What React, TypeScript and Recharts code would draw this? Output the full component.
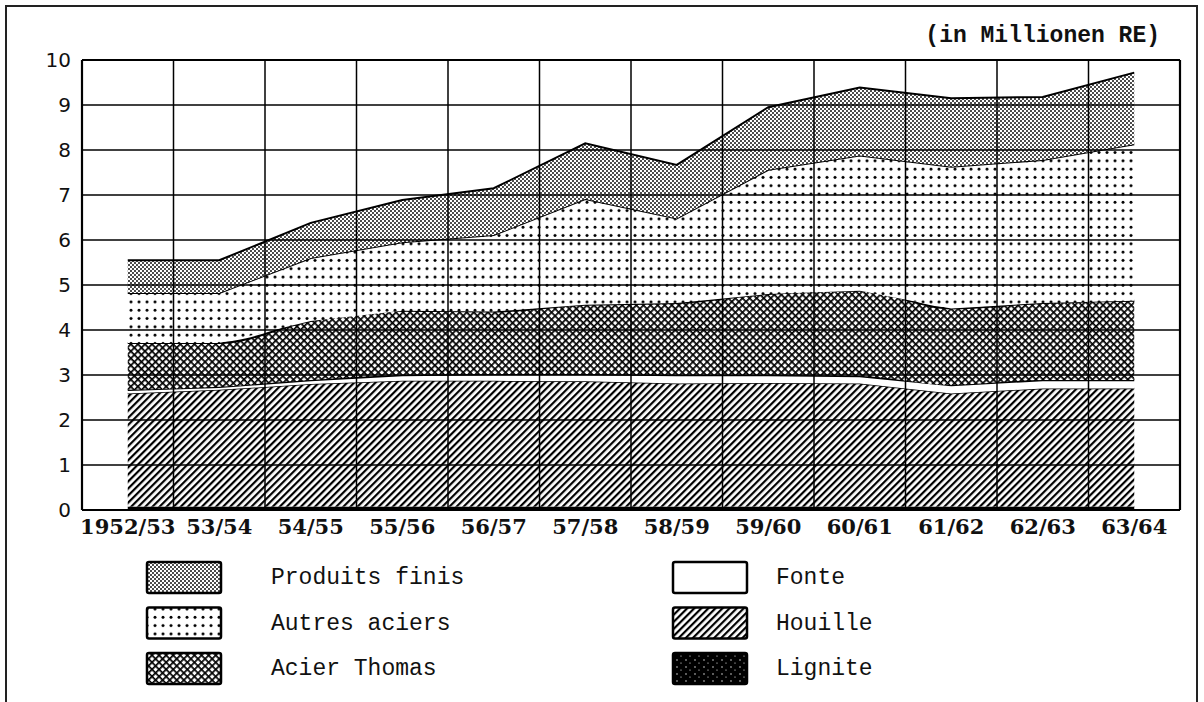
import React from "react";
import { ComposedChart, Area, XAxis, YAxis, ReferenceLine } from "recharts";

const categories = ["1952/53", "53/54", "54/55", "55/56", "56/57", "57/58", "58/59", "59/60", "60/61", "61/62", "62/63", "63/64"];
const lignite = [0.08, 0.08, 0.08, 0.08, 0.08, 0.08, 0.08, 0.08, 0.08, 0.08, 0.08, 0.08];
const houille = [2.51, 2.59, 2.72, 2.79, 2.79, 2.78, 2.73, 2.74, 2.73, 2.51, 2.62, 2.62];
const fonte = [0.08, 0.07, 0.09, 0.13, 0.15, 0.16, 0.19, 0.18, 0.17, 0.19, 0.19, 0.19];
const acierThomas = [1.04, 0.97, 1.31, 1.43, 1.39, 1.54, 1.6, 1.8, 1.89, 1.7, 1.71, 1.76];
const autresAciers = [1.11, 1.11, 1.4, 1.52, 1.7, 2.35, 1.88, 2.76, 3.01, 3.15, 3.18, 3.48];
const produitsFinis = [0.73, 0.73, 0.78, 0.94, 1.04, 1.24, 1.19, 1.39, 1.51, 1.52, 1.4, 1.59];
const yTicks = [0, 1, 2, 3, 4, 5, 6, 7, 8, 9, 10];
const xBoundaries = [-0.5, 0.5, 1.5, 2.5, 3.5, 4.5, 5.5, 6.5, 7.5, 8.5, 9.5, 10.5, 11.5];

const data = categories.map((c, i) => ({
  i,
  cat: c,
  lignite: lignite[i],
  houille: houille[i],
  fonte: fonte[i],
  thomas: acierThomas[i],
  autres: autresAciers[i],
  produits: produitsFinis[i],
}));

const Patterns = ({ p }: { p: string }) => (
  <defs>
    <pattern id={p + "prod"} width="4" height="4" patternUnits="userSpaceOnUse">
      <rect width="4" height="4" fill="#fff" />
      <circle cx="1" cy="1" r="0.95" fill="#000" />
      <circle cx="3" cy="3" r="0.95" fill="#000" />
    </pattern>
    <pattern id={p + "aut"} width="8" height="8.3" patternUnits="userSpaceOnUse">
      <rect width="8" height="8.3" fill="#fff" />
      <circle cx="3" cy="3" r="1.5" fill="#000" />
    </pattern>
    <pattern id={p + "tho"} width="5" height="5" patternUnits="userSpaceOnUse" patternTransform="rotate(45)">
      <rect width="5" height="5" fill="#fff" />
      <rect x="0" y="0" width="1.7" height="5" fill="#000" />
      <rect x="0" y="0" width="5" height="1.7" fill="#000" />
    </pattern>
    <pattern id={p + "hou"} width="5" height="5" patternUnits="userSpaceOnUse" patternTransform="rotate(45)">
      <rect width="5" height="5" fill="#fff" />
      <rect x="0" y="0" width="2.2" height="5" fill="#000" />
    </pattern>
    <pattern id={p + "lig"} width="9" height="7" patternUnits="userSpaceOnUse">
      <rect width="9" height="7" fill="#000" />
      <circle cx="2" cy="2" r="0.7" fill="#fff" />
      <circle cx="6" cy="5" r="0.6" fill="#fff" />
    </pattern>
  </defs>
);

const legendLeft = [
  { name: "Produits finis", fill: "prod" },
  { name: "Autres aciers", fill: "aut" },
  { name: "Acier Thomas", fill: "tho" },
];
const legendRight = [
  { name: "Fonte", fill: "" },
  { name: "Houille", fill: "hou" },
  { name: "Lignite", fill: "lig" },
];

const LegendBlock = () => {
  const row = (item: { name: string; fill: string }, k: number, sx: number, tx: number) => (
    <g key={item.name}>
      <rect
        x={sx}
        y={562 + k * 45.5}
        width={74}
        height={31}
        rx={2}
        fill={item.fill ? `url(#lg${item.fill})` : "#fff"}
        stroke="#000"
        strokeWidth={2.5}
      />
      <text x={tx} y={578 + k * 45.5} dominantBaseline="central" fontFamily="'Liberation Mono', monospace" fontSize={23} fill="#111">
        {item.name}
      </text>
    </g>
  );
  return (
    <svg width={1204} height={702} style={{ position: "absolute", left: 0, top: 0, pointerEvents: "none" }}>
      <Patterns p="lg" />
      {legendLeft.map((it, k) => row(it, k, 147, 271))}
      {legendRight.map((it, k) => row(it, k, 673, 776))}
      <text x={1160} y={36} textAnchor="end" dominantBaseline="central" fontFamily="'Liberation Mono', monospace" fontWeight="bold" fontSize={23} fill="#111">
        (in Millionen RE)
      </text>
    </svg>
  );
};

export default function App() {
  return (
    <div style={{ position: "relative", width: 1204, height: 702, background: "#fff", overflow: "hidden" }}>
      <style>{`body{margin:0;background:#fff}`}</style>
      <ComposedChart width={1204} height={702} data={data} margin={{ top: 60, right: 24, bottom: 162, left: 22 }}>
        <Patterns p="ch" />
        <XAxis
          dataKey="i"
          type="number"
          domain={[-0.5, 11.5]}
          ticks={categories.map((_, i) => i)}
          tickFormatter={(v: number) => categories[v]}
          axisLine={false}
          tickLine={false}
          tickSize={0}
          tickMargin={9}
          height={30}
          interval={0}
          tick={{ fill: "#111", fontSize: 21, fontFamily: "'DejaVu Serif', serif", fontWeight: "bold" }}
        />
        <YAxis
          type="number"
          domain={[0, 10]}
          ticks={yTicks}
          axisLine={false}
          tickLine={false}
          tickSize={0}
          tickMargin={11}
          width={60}
          interval={0}
          tick={{ fill: "#111", fontSize: 20, fontFamily: "'DejaVu Sans', sans-serif" }}
        />
        <Area dataKey="lignite" stackId="1" type="linear" fill="#000" stroke="none" fillOpacity={1} isAnimationActive={false} />
        <Area dataKey="houille" stackId="1" type="linear" fill="url(#chhou)" stroke="#000" strokeWidth={1.5} fillOpacity={1} isAnimationActive={false} />
        <Area dataKey="fonte" stackId="1" type="linear" fill="#fff" stroke="#000" strokeWidth={2.5} fillOpacity={1} isAnimationActive={false} />
        <Area dataKey="thomas" stackId="1" type="monotone" fill="url(#chtho)" stroke="#000" strokeWidth={2} fillOpacity={1} isAnimationActive={false} />
        <Area dataKey="autres" stackId="1" type="linear" fill="url(#chaut)" stroke="#000" strokeWidth={2} fillOpacity={1} isAnimationActive={false} />
        <Area dataKey="produits" stackId="1" type="linear" fill="url(#chprod)" stroke="#000" strokeWidth={2} fillOpacity={1} isAnimationActive={false} />
        {yTicks.map((v) => (
          <ReferenceLine key={"h" + v} y={v} stroke="#000" strokeWidth={v === 10 || v === 0 ? 2 : 1.6} />
        ))}
        {xBoundaries.map((v, k) => (
          <ReferenceLine key={"v" + v} x={v} stroke="#000" strokeWidth={k === 0 || k === xBoundaries.length - 1 ? 2.2 : 1.5} />
        ))}
      </ComposedChart>
      <LegendBlock />
      <div style={{ position: "absolute", left: 5, top: 5, width: 1193, height: 720, border: "2px solid #222", boxSizing: "border-box" }} />
    </div>
  );
}
